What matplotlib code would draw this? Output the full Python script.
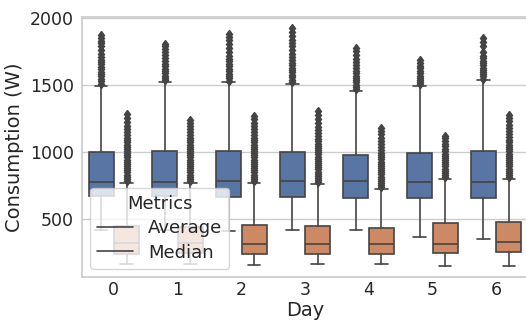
import matplotlib
matplotlib.use("Agg")
import matplotlib.pyplot as plt
from matplotlib.lines import Line2D
import seaborn as sns

days = [0, 1, 2, 3, 4, 5, 6]
metrics = ["Average", "Median"]

# box summaries (W)
avg_lo = [420, 418, 415, 420, 418, 368, 353]
avg_q1 = [674, 674, 664, 664, 661, 661, 657]
avg_med = [781, 781, 786, 786, 786, 776, 776]
avg_q3 = [1005, 1012, 1010, 1000, 980, 997, 1007]
avg_hi = [1497, 1525, 1522, 1510, 1460, 1495, 1537]

med_lo = [164, 164, 161, 164, 164, 154, 151]
med_q1 = [243, 248, 243, 243, 243, 249, 256]
med_med = [321, 320, 318, 313, 313, 316, 328]
med_q3 = [452, 440, 455, 450, 435, 470, 480]
med_hi = [773, 773, 773, 763, 726, 801, 801]

avg_fliers = [
    [1512, 1530, 1548, 1566, 1584, 1602, 1620, 1638, 1656, 1674, 1692, 1712, 1735, 1762, 1790, 1815, 1832, 1850, 1873],
    [1538, 1555, 1572, 1590, 1608, 1625, 1642, 1660, 1680, 1702, 1725, 1750, 1772, 1792, 1812],
    [1535, 1552, 1570, 1588, 1606, 1624, 1642, 1660, 1680, 1700, 1722, 1745, 1775, 1805, 1835, 1860, 1885],
    [1525, 1542, 1560, 1578, 1596, 1614, 1632, 1650, 1670, 1690, 1712, 1735, 1760, 1790, 1815, 1840, 1870, 1898, 1925],
    [1474, 1490, 1506, 1522, 1538, 1555, 1572, 1590, 1608, 1628, 1650, 1675, 1700, 1728, 1755, 1778],
    [1508, 1524, 1540, 1556, 1572, 1590, 1608, 1626, 1646, 1668, 1688],
    [1550, 1566, 1582, 1598, 1614, 1630, 1648, 1666, 1684, 1702, 1722, 1745, 1790, 1822, 1855],
]

med_fliers = [
    [786, 802, 818, 834, 850, 866, 882, 898, 914, 930, 946, 962, 978, 994, 1010, 1026, 1042, 1058, 1075, 1092,
     1110, 1130, 1152, 1175, 1200, 1225, 1255, 1283],
    [786, 802, 818, 834, 850, 866, 882, 898, 914, 930, 946, 962, 978, 994, 1010, 1026, 1042, 1058, 1075, 1092,
     1110, 1130, 1150, 1172, 1195, 1218, 1240],
    [786, 802, 818, 834, 850, 866, 882, 898, 914, 930, 946, 962, 978, 994, 1010, 1026, 1042, 1058, 1075, 1092,
     1110, 1130, 1152, 1175, 1198, 1222, 1248, 1273],
    [776, 792, 808, 824, 840, 856, 872, 888, 904, 920, 936, 952, 968, 984, 1000, 1016, 1032, 1048, 1065, 1082,
     1100, 1120, 1142, 1165, 1190, 1215, 1245, 1275, 1305],
    [739, 755, 771, 787, 803, 819, 835, 851, 867, 883, 899, 915, 931, 947, 963, 980, 998, 1018, 1040, 1062,
     1085, 1110, 1135, 1160, 1182],
    [814, 830, 846, 862, 878, 894, 910, 926, 942, 958, 974, 990, 1008, 1026, 1045, 1065, 1085, 1105, 1123],
    [814, 830, 846, 862, 878, 894, 910, 926, 942, 958, 974, 990, 1006, 1022, 1040, 1058, 1076, 1095, 1115,
     1135, 1158, 1182, 1205, 1230, 1255, 1278],
]

sns.set_theme(style="whitegrid")
plt.rcParams["font.family"] = ["DejaVu Sans"]

colors = ["#5975a4", "#cc8963"]
gray = "#444444"

fig = plt.figure(figsize=(5.26, 3.27), dpi=100)
ax = fig.add_axes([82 / 526, 1 - 277 / 327, (528 - 82) / 526, (277 - 17) / 327])


def make_stats(lo, q1, med, q3, hi, fl):
    return [dict(whislo=lo[i], q1=q1[i], med=med[i], q3=q3[i], whishi=hi[i], fliers=fl[i]) for i in range(len(days))]


groups = [
    make_stats(avg_lo, avg_q1, avg_med, avg_q3, avg_hi, avg_fliers),
    make_stats(med_lo, med_q1, med_med, med_q3, med_hi, med_fliers),
]
offsets = [-0.2, 0.2]

for stats, off, c in zip(groups, offsets, colors):
    ax.bxp(
        stats,
        positions=[d + off for d in days],
        widths=0.392,
        capwidths=0.196,
        patch_artist=True,
        manage_ticks=False,
        boxprops=dict(facecolor=c, edgecolor=gray, linewidth=1.2),
        medianprops=dict(color=gray, linewidth=1.2),
        whiskerprops=dict(color=gray, linewidth=1.2),
        capprops=dict(color=gray, linewidth=1.2),
        flierprops=dict(marker="d", markerfacecolor=gray, markeredgecolor=gray,
                        markersize=4.5, linestyle="none"),
    )

ax.set_xlim(-0.5, 6.5)
ax.set_ylim(69, 2010)
ax.set_xticks(days)
ax.set_xticklabels([str(d) for d in days])
ax.set_yticks([500, 1000, 1500, 2000])
ax.xaxis.grid(False)
ax.yaxis.grid(True, color="#cccccc", linewidth=1.0)
ax.set_axisbelow(True)
for s in ax.spines.values():
    s.set_color("#cccccc")
    s.set_linewidth(1.25)
ax.tick_params(axis="both", labelsize=12.5, colors="#262626", length=0)
ax.tick_params(axis="x", pad=3)
ax.tick_params(axis="y", pad=6)
ax.set_xlabel("Day", fontsize=14, color="#262626", labelpad=1)
ax.set_ylabel("Consumption (W)", fontsize=14, color="#262626", labelpad=4)

handles = [Line2D([], [], color=gray, linewidth=1.2) for _ in metrics]
leg = ax.legend(handles, metrics, title="Metrics", loc="lower left",
                fontsize=13, title_fontsize=13, framealpha=0.8,
                labelspacing=0.35, borderaxespad=0.45)
leg.get_frame().set_edgecolor("#cccccc")

fig.savefig("out.png", dpi=100)
